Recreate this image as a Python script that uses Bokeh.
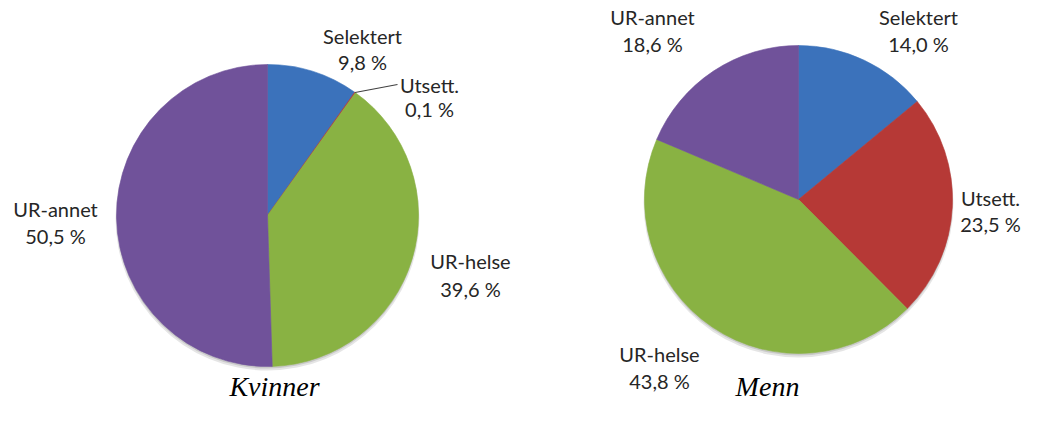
import math
from bokeh.plotting import figure
from bokeh.models import Range1d, ColumnDataSource
from bokeh.core.properties import value
from bokeh.embed import file_html
from bokeh.resources import INLINE

# ---- data ----
categories = ["Selektert", "Utsett.", "UR-helse", "UR-annet"]
kvinner = [9.8, 0.1, 39.6, 50.5]
menn = [14.0, 23.5, 43.8, 18.6]
colors = ["#3B72BB", "#B63936", "#89B243", "#70529A"]
titles = ["Kvinner", "Menn"]

# ---- layout (pixel coordinates from top-left) ----
W, H = 1022, 407
pies = [
    dict(cx=267, cy=215, r=151, vals=kvinner,
         labels=[(362, 35, 61), (429, 84, 108), (470, 260, 288), (55, 208, 235)],
         title=(274, 386)),
    dict(cx=798, cy=199, r=154, vals=menn,
         labels=[(918, 16, 43), (990, 197, 223), (659, 353, 380), (652, 16, 43)],
         title=(767, 386)),
]

def Y(y):
    return H - y

p = figure(width=W, height=H, output_backend="svg", toolbar_location=None,
           x_range=Range1d(0, W), y_range=Range1d(0, H),
           min_border=0, min_border_left=0, min_border_right=0,
           min_border_top=0, min_border_bottom=0)
p.axis.visible = False
p.grid.visible = False
p.outline_line_color = None
p.background_fill_color = "white"
p.border_fill_color = "white"

font = value("Lato")
for k, pie in enumerate(pies):
    vals = pie["vals"]
    tot = sum(vals)
    starts, ends = [], []
    c = 0.0
    for v in vals:
        starts.append(math.pi / 2 - 2 * math.pi * c / tot)
        c += v
        ends.append(math.pi / 2 - 2 * math.pi * c / tot)
    # soft shadow
    p.circle(x=pie["cx"], y=Y(pie["cy"] + 3), radius=pie["r"] + 1, radius_units="screen",
             fill_color="#000000", fill_alpha=0.10, line_color=None)
    p.circle(x=pie["cx"], y=Y(pie["cy"] + 2), radius=pie["r"], radius_units="screen",
             fill_color="#000000", fill_alpha=0.12, line_color=None)
    src = ColumnDataSource(dict(start=starts, end=ends, color=colors,
                                x=[pie["cx"]] * 4, y=[Y(pie["cy"])] * 4))
    p.wedge(x="x", y="y", radius=pie["r"], radius_units="screen",
            start_angle="start", end_angle="end", direction="clock",
            fill_color="color", line_color="color", line_width=0.6, source=src)
    for i, cat in enumerate(categories):
        lx, ly1, ly2 = pie["labels"][i]
        pct = ("%.1f" % vals[i]).replace(".", ",") + " %"
        p.text(x=[lx], y=[Y(ly1)], text=[cat], text_align="center", text_baseline="middle",
               text_font=font, text_font_size="20px", text_color="#262626")
        p.text(x=[lx], y=[Y(ly2)], text=[pct], text_align="center", text_baseline="middle",
               text_font=font, text_font_size="20px", text_color="#262626")
    tx, ty = pie["title"]
    p.text(x=[tx], y=[Y(ty)], text=[titles[k]], text_align="center", text_baseline="middle",
           text_font=value("Liberation Serif"), text_font_style="italic",
           text_font_size="28px", text_color="#000000")

# leader line for the small "Utsett." slice (women)
pie = pies[0]
vals = pie["vals"]
mid = (vals[0] + vals[1] / 2) / sum(vals) * 2 * math.pi
ex = pie["cx"] + pie["r"] * math.sin(mid)
ey = pie["cy"] - pie["r"] * math.cos(mid)
p.line(x=[ex, 397], y=[Y(ey), Y(84)], line_color="#404040", line_width=1.2)

open("out.html", "w").write(file_html(p, INLINE))
